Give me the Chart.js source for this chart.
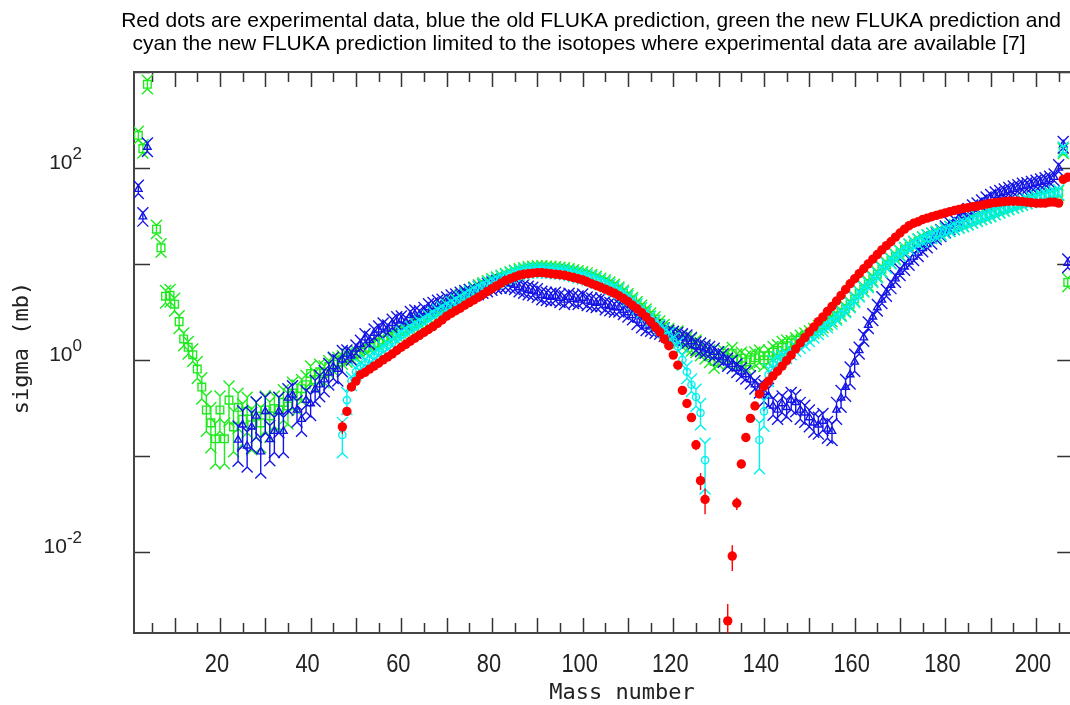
<!DOCTYPE html>
<html>
<head>
<meta charset="utf-8">
<title>sigma x Mass number</title>
<script src="https://cdn.jsdelivr.net/npm/chart.js@4.4.1/dist/chart.umd.min.js"></script>
<style>
  html, body { margin: 0; padding: 0; background: #fff; overflow: hidden; }
  #wrap { width: 1080px; height: 705px; }
</style>
</head>
<body>
<div id="wrap"><canvas id="grafico" width="1080" height="705"></canvas></div>
<script>
// Dados (sigma em mb, erro relativo)

// Pontos vermelhos - dados experimentais
const massaExp = [
  47,48,49,50,51,52,53,54,55,56,
  57,58,59,60,61,62,63,64,65,66,
  67,68,69,70,71,72,73,74,75,76,
  77,78,79,80,81,82,83,84,85,86,
  87,88,89,90,91,92,93,94,95,96,
  97,98,99,100,101,102,103,104,105,106,
  107,108,109,110,111,112,113,114,115,116,
  117,118,119,120,121,122,123,124,125,126,
  127,
  132,133,134,135,136,137,138,139,140,141,
  142,143,144,145,146,147,148,149,150,151,
  152,153,154,155,156,157,158,159,160,161,
  162,163,164,165,166,167,168,169,170,171,
  172,173,174,175,176,177,178,179,180,181,
  182,183,184,185,186,187,188,189,190,191,
  192,193,194,195,196,197,198,199,200,201,
  202,203,204,205,206,207
];
const sigmaExp = [
  0.20,0.29,0.52,0.60,0.70,0.74,0.80,0.86,0.92,1.00,
  1.07,1.15,1.25,1.35,1.45,1.56,1.68,1.80,1.93,2.07,
  2.22,2.40,2.60,2.85,3.05,3.25,3.45,3.7,3.95,4.2,
  4.5,4.8,5.15,5.5,5.9,6.3,6.7,7.0,7.3,7.6,
  7.8,7.9,8.0,8.1,8.1,8.0,7.9,7.8,7.7,7.6,
  7.4,7.2,7.0,6.8,6.5,6.2,5.95,5.7,5.45,5.2,
  4.95,4.65,4.35,4.05,3.7,3.4,3.1,2.8,2.5,2.2,
  1.95,1.65,1.4,1.12,0.88,0.48,0.35,0.25,0.13,0.055,
  0.035,
  0.0019,0.009,0.032,0.082,0.155,0.245,0.33,0.44,0.53,0.60,
  0.68,0.76,0.86,0.98,1.12,1.3,1.5,1.7,1.95,2.2,
  2.5,2.8,3.2,3.6,4.1,4.7,5.4,6.2,7.0,7.9,
  8.9,10.0,11.2,12.5,14.0,15.5,17.0,19.0,21.0,23,
  25,26.5,27.5,29,30,31,32,33,34,35,
  36,37,38,38.5,39.5,40,41,42,43,43.5,
  44,44.5,45,45,45,44.5,44,43.5,43,43,
  43,44,44,43,76,80
];
const erroExp = [
  0.15,0.1,0.06,0.05,0.05,0.05,0.05,0.05,0.05,0.05,
  0.05,0.05,0.05,0.05,0.05,0.05,0.05,0.05,0.05,0.05,
  0.05,0.05,0.05,0.05,0.05,0.05,0.05,0.05,0.05,0.05,
  0.05,0.05,0.05,0.05,0.05,0.05,0.05,0.05,0.05,0.05,
  0.05,0.05,0.05,0.05,0.05,0.05,0.05,0.05,0.05,0.05,
  0.05,0.05,0.05,0.05,0.05,0.05,0.05,0.05,0.05,0.05,
  0.05,0.05,0.05,0.05,0.05,0.05,0.05,0.05,0.05,0.05,
  0.05,0.05,0.05,0.05,0.08,0.1,0.1,0.1,0.12,0.2,
  0.3,
  0.5,0.3,0.15,0.1,0.08,0.06,0.05,0.05,0.05,0.05,
  0.05,0.05,0.05,0.05,0.05,0.05,0.05,0.05,0.05,0.05,
  0.05,0.05,0.05,0.05,0.05,0.05,0.05,0.05,0.05,0.05,
  0.05,0.05,0.05,0.05,0.05,0.05,0.05,0.05,0.05,0.05,
  0.05,0.05,0.05,0.05,0.05,0.05,0.05,0.05,0.05,0.05,
  0.05,0.05,0.05,0.05,0.05,0.05,0.05,0.05,0.05,0.05,
  0.05,0.05,0.05,0.05,0.05,0.05,0.05,0.05,0.05,0.05,
  0.05,0.05,0.05,0.05,0.06,0.06
];

// Azul - predição antiga do FLUKA
const massaAntigo = [
  2,3,4,
  24,25,26,27,28,29,30,31,32,33,
  34,35,36,37,38,39,40,41,42,43,
  44,45,46,47,48,49,50,51,52,53,
  54,55,56,57,58,59,60,61,62,63,
  64,65,66,67,68,69,70,71,72,73,
  74,75,76,77,78,79,80,81,82,83,
  84,85,86,87,88,89,90,91,92,93,
  94,95,96,97,98,99,100,101,102,103,
  104,105,106,107,108,109,110,111,112,113,
  114,115,116,117,118,119,120,121,122,123,
  124,125,126,127,128,129,130,131,132,133,
  134,135,136,137,138,139,140,141,142,143,
  144,145,146,147,148,149,150,151,152,153,
  154,155,156,157,158,159,160,161,162,163,
  164,165,166,167,168,169,170,171,172,173,
  174,175,176,177,178,179,180,181,182,183,
  184,185,186,187,188,189,190,191,192,193,
  194,195,196,197,198,199,200,201,202,203,
  204,205,206,207
];
const sigmaAntigo = [
  60,31,165,
  0.146,0.21,0.127,0.2,0.26,0.11,0.29,0.148,0.18,0.29,
  0.18,0.40,0.43,0.30,0.24,0.38,0.35,0.49,0.55,0.62,
  0.73,0.85,0.80,1.0,1.15,1.1,1.3,1.45,1.7,1.6,
  1.9,2.05,2.2,2.1,2.4,2.55,2.6,2.5,2.9,3.0,
  2.95,3.2,3.5,3.6,3.8,3.9,4.1,4.3,4.4,4.6,
  4.8,4.9,5.1,5.3,5.5,5.7,5.9,6.1,6.2,6.3,
  6.2,6.0,5.7,5.5,5.3,5.2,5.0,4.7,4.6,4.5,
  4.6,4.4,4.2,4.5,4.3,4.2,4.4,4.1,4.0,3.9,
  4.0,3.7,3.6,3.5,3.5,3.3,3.1,2.9,2.6,2.4,
  2.25,2.2,2.1,2.05,1.95,1.85,1.8,1.75,1.7,1.65,
  1.55,1.4,1.35,1.3,1.25,1.2,1.1,1.05,0.95,0.9,
  0.82,0.75,0.70,0.62,0.55,0.5,0.46,0.42,0.33,0.30,
  0.35,0.32,0.38,0.36,0.30,0.28,0.25,0.22,0.21,0.23,
  0.19,0.18,0.30,0.40,0.52,0.70,0.95,1.25,1.7,2.3,
  2.8,3.5,4.2,5.0,6.0,7.0,8.2,9.3,10.5,11.8,
  13.0,14.5,16.0,17.5,19.5,21,23,25,27,29.5,
  32,35,38,40,43,46,49,52,54,56,
  58,60,62,64,65,67,69,71,73,76,
  80,100,175,10.2
];
const erroAntigo = [
  0.1,0.1,0.1,
  0.4,0.4,0.4,0.4,0.4,0.4,0.4,0.4,0.4,0.4,
  0.4,0.25,0.25,0.25,0.25,0.25,0.25,0.25,0.25,0.25,
  0.25,0.25,0.25,0.25,0.1,0.1,0.1,0.1,0.1,0.1,
  0.1,0.1,0.1,0.1,0.1,0.1,0.1,0.1,0.1,0.1,
  0.1,0.1,0.1,0.1,0.1,0.1,0.1,0.1,0.1,0.1,
  0.1,0.1,0.1,0.1,0.1,0.1,0.1,0.1,0.1,0.1,
  0.1,0.1,0.1,0.1,0.1,0.1,0.1,0.1,0.1,0.1,
  0.1,0.1,0.1,0.1,0.1,0.1,0.1,0.1,0.1,0.1,
  0.1,0.1,0.1,0.1,0.1,0.1,0.1,0.1,0.1,0.1,
  0.1,0.1,0.1,0.1,0.1,0.1,0.1,0.1,0.1,0.1,
  0.1,0.1,0.1,0.1,0.1,0.1,0.1,0.1,0.1,0.1,
  0.1,0.1,0.1,0.1,0.1,0.1,0.2,0.2,0.2,0.2,
  0.2,0.2,0.2,0.2,0.2,0.2,0.2,0.2,0.2,0.2,
  0.2,0.2,0.2,0.2,0.2,0.2,0.2,0.08,0.08,0.08,
  0.08,0.08,0.08,0.08,0.08,0.08,0.08,0.08,0.08,0.08,
  0.08,0.08,0.08,0.08,0.08,0.08,0.08,0.08,0.08,0.08,
  0.08,0.08,0.08,0.08,0.08,0.08,0.08,0.08,0.08,0.08,
  0.08,0.08,0.08,0.08,0.08,0.08,0.08,0.08,0.08,0.08,
  0.08,0.08,0.08,0.1
];

// Verde - nova predição do FLUKA
const massaNovo = [
  2,3,4,
  6,7,8,9,10,11,12,13,14,15,
  16,17,18,19,20,21,22,23,24,25,
  26,27,28,29,30,31,32,33,34,35,
  36,37,38,39,40,41,42,43,44,45,
  46,47,48,49,50,51,52,53,54,55,
  56,57,58,59,60,61,62,63,64,65,
  66,67,68,69,70,71,72,73,74,75,
  76,77,78,79,80,81,82,83,84,85,
  86,87,88,89,90,91,92,93,94,95,
  96,97,98,99,100,101,102,103,104,105,
  106,107,108,109,110,111,112,113,114,115,
  116,117,118,119,120,121,122,123,124,125,
  126,127,128,129,130,131,132,133,134,135,
  136,137,138,139,140,141,142,143,144,145,
  146,147,148,149,150,151,152,153,154,155,
  156,157,158,159,160,161,162,163,164,165,
  166,167,168,169,170,171,172,173,174,175,
  176,177,178,179,180,181,182,183,184,185,
  186,187,188,189,190,191,192,193,194,195,
  196,197,198,199,200,201,202,203,204,205,
  206,207
];
const sigmaNovo = [
  219,159,745,
  23,14.7,4.6,4.7,3.8,2.5,1.65,1.35,1.13,0.8,
  0.52,0.3,0.22,0.15,0.3,0.15,0.38,0.2,0.32,0.24,
  0.29,0.21,0.26,0.22,0.3,0.26,0.31,0.3,0.36,0.33,
  0.45,0.42,0.5,0.55,0.72,0.62,0.75,0.72,0.85,0.9,
  0.95,1.0,1.05,1.1,1.15,1.2,1.3,1.35,1.45,1.5,
  1.6,1.7,1.8,1.9,2.0,2.1,2.25,2.4,2.55,2.7,
  2.9,3.1,3.3,3.5,3.75,4.0,4.2,4.5,4.8,5.1,
  5.4,5.7,6.0,6.3,6.6,6.9,7.2,7.5,7.8,8.1,
  8.4,8.6,8.8,8.9,9.0,9.0,8.9,8.9,8.8,8.7,
  8.6,8.4,8.2,8.0,7.8,7.6,7.3,7.0,6.7,6.4,
  6.1,5.8,5.4,5.0,4.6,4.2,3.8,3.5,3.2,2.9,
  2.65,2.4,2.2,2.0,1.85,1.75,1.6,1.5,1.45,1.4,
  1.3,1.2,1.1,0.96,1.05,1.1,1.05,1.17,1.0,1.04,
  0.95,1.0,1.05,1.1,1.0,1.1,1.2,1.25,1.35,1.4,
  1.5,1.6,1.7,1.8,1.9,2.0,2.15,2.3,2.45,2.65,
  2.85,3.1,3.4,3.8,4.3,4.9,5.5,6.2,7.0,7.8,
  8.8,9.8,10.8,11.9,13.0,14.1,15.2,16.2,17.2,18.1,
  19,19.8,20.6,21.4,22.3,23.3,24.3,25.3,26.3,27.3,
  28.5,29.7,30.9,32.1,33.3,34.8,36.3,37.8,39.3,40.8,
  42.3,43.8,45.3,46.8,48.3,49.8,51.3,52.5,53.7,55,
  150,6.4
];
const erroNovo = [
  0.1,0.1,0.1,
  0.1,0.1,0.15,0.15,0.15,0.15,0.15,0.15,0.15,0.2,
  0.25,0.4,0.45,0.45,0.4,0.45,0.4,0.45,0.4,0.45,
  0.4,0.45,0.4,0.45,0.4,0.4,0.35,0.35,0.35,0.35,
  0.3,0.3,0.25,0.25,0.2,0.2,0.2,0.2,0.15,0.15,
  0.12,0.1,0.1,0.08,0.08,0.06,0.06,0.06,0.06,0.06,
  0.06,0.06,0.06,0.06,0.06,0.06,0.06,0.06,0.06,0.06,
  0.06,0.06,0.06,0.06,0.06,0.06,0.06,0.06,0.06,0.06,
  0.06,0.06,0.06,0.06,0.06,0.06,0.06,0.06,0.06,0.06,
  0.06,0.06,0.06,0.06,0.06,0.06,0.06,0.06,0.06,0.06,
  0.06,0.06,0.06,0.06,0.06,0.06,0.06,0.06,0.06,0.06,
  0.06,0.06,0.06,0.06,0.06,0.06,0.06,0.06,0.06,0.06,
  0.06,0.06,0.06,0.06,0.06,0.15,0.15,0.15,0.15,0.15,
  0.15,0.15,0.15,0.15,0.15,0.15,0.15,0.15,0.15,0.15,
  0.15,0.15,0.15,0.15,0.15,0.15,0.15,0.15,0.15,0.15,
  0.06,0.06,0.06,0.06,0.06,0.06,0.06,0.06,0.06,0.06,
  0.06,0.06,0.06,0.06,0.06,0.06,0.06,0.06,0.06,0.06,
  0.06,0.06,0.06,0.06,0.06,0.06,0.06,0.06,0.06,0.06,
  0.06,0.06,0.06,0.06,0.06,0.06,0.06,0.06,0.06,0.06,
  0.06,0.06,0.06,0.06,0.06,0.06,0.06,0.06,0.06,0.06,
  0.06,0.06,0.06,0.06,0.06,0.06,0.06,0.06,0.06,0.06,
  0.06,0.1
];

// Ciano - nova predição limitada aos isótopos com dados experimentais
const massaLimitado = [
  47,48,49,50,51,52,53,54,55,56,
  57,58,59,60,61,62,63,64,65,66,
  67,68,69,70,71,72,73,74,75,76,
  77,78,79,80,81,82,83,84,85,86,
  87,88,89,90,91,92,93,94,95,96,
  97,98,99,100,101,102,103,104,105,106,
  107,108,109,110,111,112,113,114,115,116,
  117,118,119,120,121,122,123,124,125,126,
  127,
  139,140,141,142,143,144,145,146,147,148,
  149,150,151,152,153,154,155,156,157,158,
  159,160,161,162,163,164,165,166,167,168,
  169,170,171,172,173,174,175,176,177,178,
  179,180,181,182,183,184,185,186,187,188,
  189,190,191,192,193,194,195,196,197,198,
  199,200,201,202,203,204,205,206
];
const sigmaLimitado = [
  0.165,0.38,0.6,0.75,0.85,0.95,1.0,1.1,1.2,1.3,
  1.4,1.5,1.7,1.85,1.95,2.1,2.25,2.4,2.55,2.75,
  2.95,3.15,3.35,3.55,3.8,4.0,4.3,4.6,4.9,5.2,
  5.5,5.8,6.1,6.4,6.7,7.0,7.3,7.6,7.9,8.1,
  8.3,8.5,8.6,8.6,8.6,8.5,8.5,8.4,8.3,8.2,
  8.0,7.8,7.6,7.4,7.2,7.0,6.7,6.4,6.1,5.8,
  5.5,5.2,4.8,4.4,4.0,3.6,3.3,3.0,2.7,2.45,
  2.2,2.0,1.8,1.6,1.38,1.0,0.75,0.55,0.41,0.28,
  0.09,
  0.146,0.29,0.7,0.9,1.0,1.05,1.1,1.2,1.3,1.4,
  1.5,1.65,1.8,1.95,2.1,2.3,2.5,2.75,3.0,3.3,
  3.7,4.2,4.8,5.4,6.0,6.8,7.6,8.6,9.6,10.6,
  11.7,12.8,13.9,15.0,16.0,17.0,17.9,18.7,19.5,20.3,
  21.1,22,23,24,25,26,27,28.2,29.4,30.6,
  31.8,33,34.5,36,37.5,39,40.5,42,43.5,45,
  46.5,48,49.5,51,52.5,54,56,156
];
const erroLimitado = [
  0.35,0.2,0.1,0.08,0.06,0.06,0.06,0.06,0.06,0.06,
  0.06,0.06,0.06,0.06,0.06,0.06,0.06,0.06,0.06,0.06,
  0.06,0.06,0.06,0.06,0.06,0.06,0.06,0.06,0.06,0.06,
  0.06,0.06,0.06,0.06,0.06,0.06,0.06,0.06,0.06,0.06,
  0.06,0.06,0.06,0.06,0.06,0.06,0.06,0.06,0.06,0.06,
  0.06,0.06,0.06,0.06,0.06,0.06,0.06,0.06,0.06,0.06,
  0.06,0.06,0.06,0.06,0.06,0.06,0.06,0.06,0.06,0.06,
  0.06,0.06,0.06,0.06,0.1,0.12,0.15,0.15,0.2,0.25,
  0.5,
  0.5,0.3,0.15,0.1,0.08,0.06,0.06,0.06,0.06,0.06,
  0.06,0.06,0.06,0.06,0.06,0.06,0.06,0.06,0.06,0.06,
  0.06,0.06,0.06,0.06,0.06,0.06,0.06,0.06,0.06,0.06,
  0.06,0.06,0.06,0.06,0.06,0.06,0.06,0.06,0.06,0.06,
  0.06,0.06,0.06,0.06,0.06,0.06,0.06,0.06,0.06,0.06,
  0.06,0.06,0.06,0.06,0.06,0.06,0.06,0.06,0.06,0.06,
  0.06,0.06,0.06,0.06,0.06,0.06,0.06,0.06
];

// Eixos
const ticksMassa = [20, 40, 60, 80, 100, 120, 140, 160, 180, 200];
const expoentesSigma = [-2, 0, 2];

const titulo = [
  'Red dots are experimental data, blue the old FLUKA prediction, green the new FLUKA prediction and',
  'cyan the new FLUKA prediction limited to the isotopes where experimental data are available [7]'
];

const pontos = (massa, sigma) => massa.map((m, i) => ({ x: m, y: sigma[i] }));

// Barras de erro com "garfo" nas pontas, desenhadas antes dos marcadores de cada série
const barrasErro = {
    id: 'barrasErro',
    beforeDatasetDraw(chart, args) {
        const ds = chart.data.datasets[args.index];
        if (!ds.erros) return;
        const y = chart.scales.y;
        const area = chart.chartArea;
        const c = chart.ctx;
        c.save();
        c.beginPath();
        c.rect(area.left, area.top, area.right - area.left, area.bottom - area.top);
        c.clip();
        c.strokeStyle = ds.corBarra;
        c.lineWidth = 1.4;
        args.meta.data.forEach((pt, i) => {
            const v = ds.data[i].y;
            const e = ds.erros[i];
            const yAlto = y.getPixelForValue(v * (1 + e));
            const yBaixo = y.getPixelForValue(Math.max(v * (1 - e), 1e-6));
            c.beginPath();
            c.moveTo(pt.x, yAlto);
            c.lineTo(pt.x, yBaixo);
            if (ds.garfo) {
                const g = ds.garfo;
                c.moveTo(pt.x - g, yAlto - g); c.lineTo(pt.x, yAlto); c.lineTo(pt.x + g, yAlto - g);
                c.moveTo(pt.x - g, yBaixo + g); c.lineTo(pt.x, yBaixo); c.lineTo(pt.x + g, yBaixo + g);
            }
            c.stroke();
        });
        c.restore();
    }
};

// Moldura com ticks para dentro, nos quatro lados, e os textos
const moldura = {
    id: 'moldura',
    beforeDatasetsDraw(chart) {
        const { ctx: c, chartArea: a, scales: { x, y } } = chart;
        c.save();
        c.strokeStyle = '#333';
        c.lineWidth = 1.5;
        for (let m = 5; m <= x.max; m += 5) {
            const px = Math.round(x.getPixelForValue(m)) + 0.5;
            const len = m % 10 === 0 ? 15 : 10;
            c.beginPath();
            c.moveTo(px, a.bottom); c.lineTo(px, a.bottom - len);
            c.moveTo(px, a.top); c.lineTo(px, a.top + len);
            c.stroke();
        }
        for (let k = -2; k <= 3; k++) {
            const py = Math.round(y.getPixelForValue(Math.pow(10, k))) + 0.5;
            c.beginPath();
            c.moveTo(a.left, py); c.lineTo(a.left + 16, py);
            c.moveTo(a.right, py); c.lineTo(a.right - 16, py);
            c.stroke();
        }
        c.strokeStyle = '#444';
        c.lineWidth = 2;
        c.strokeRect(a.left, a.top, a.right - a.left, a.bottom - a.top);
        c.restore();
    },
    afterDraw(chart) {
        const { ctx: c, scales: { x, y } } = chart;
        c.save();
        c.fillStyle = '#000';
        // título em duas linhas
        c.font = '21px "Liberation Sans", Arial, sans-serif';
        c.textAlign = 'center';
        c.textBaseline = 'alphabetic';
        c.fillText(titulo[0], 591, 27);
        c.fillText(titulo[1], 579, 50);

        // rótulos do eixo x (fonte estreita)
        c.fillStyle = '#222';
        c.font = '26px "Liberation Sans", Arial, sans-serif';
        ticksMassa.forEach(v => {
            const px = x.getPixelForValue(v) - 3;
            c.save();
            c.translate(px, 672);
            c.scale(0.84, 1);
            c.fillText(String(v), 0, 0);
            c.restore();
        });

        // rótulos 10^n do eixo y
        c.textAlign = 'left';
        expoentesSigma.forEach(k => {
            const py = y.getPixelForValue(Math.pow(10, k));
            const exp = String(k);
            c.font = '17px "Liberation Sans", Arial, sans-serif';
            const wExp = c.measureText(exp).width;
            c.font = '21px "Liberation Sans", Arial, sans-serif';
            const wBase = c.measureText('10').width;
            const xFim = 82;
            c.fillText('10', xFim - wExp - wBase, py + 1);
            c.font = '17px "Liberation Sans", Arial, sans-serif';
            c.fillText(exp, xFim - wExp, py - 9);
        });

        // títulos dos eixos
        c.font = '22px "DejaVu Sans Mono", monospace';
        c.textAlign = 'center';
        c.textBaseline = 'middle';
        c.fillText('Mass number', 622, 693);
        c.translate(22, 348);
        c.rotate(-Math.PI / 2);
        c.fillText('sigma (mb)', 0, 0);
        c.restore();
    }
};

const ctx = document.getElementById('grafico');

new Chart(ctx, {
    type: 'scatter',
    data: {
        datasets: [
            {
                label: 'Experimental',
                data: pontos(massaExp, sigmaExp),
                erros: erroExp,
                corBarra: 'rgb(255, 0, 0)',
                garfo: 0,
                pointStyle: 'circle',
                pointRadius: 4.7,
                pointBackgroundColor: 'rgb(255, 0, 0)',
                pointBorderWidth: 0
            },
            {
                label: 'FLUKA nova (limitada)',
                data: pontos(massaLimitado, sigmaLimitado),
                erros: erroLimitado,
                corBarra: 'rgb(0, 240, 240)',
                garfo: 5.5,
                pointStyle: 'circle',
                pointRadius: 3.6,
                pointBackgroundColor: 'rgba(0, 0, 0, 0)',
                pointBorderColor: 'rgb(0, 240, 240)',
                pointBorderWidth: 1.4
            },
            {
                label: 'FLUKA antiga',
                data: pontos(massaAntigo, sigmaAntigo),
                erros: erroAntigo,
                corBarra: 'rgb(20, 20, 230)',
                garfo: 5.5,
                pointStyle: 'triangle',
                pointRadius: 4.3,
                pointBackgroundColor: 'rgba(0, 0, 0, 0)',
                pointBorderColor: 'rgb(20, 20, 230)',
                pointBorderWidth: 1.4
            },
            {
                label: 'FLUKA nova',
                data: pontos(massaNovo, sigmaNovo),
                erros: erroNovo,
                corBarra: 'rgb(30, 235, 30)',
                garfo: 5.5,
                pointStyle: 'rect',
                pointRadius: 5.4,
                pointBackgroundColor: 'rgba(0, 0, 0, 0)',
                pointBorderColor: 'rgb(30, 235, 30)',
                pointBorderWidth: 1.4
            }
        ]
    },
    options: {
        responsive: false,
        animation: false,
        layout: {
            padding: { top: 72, left: 0, right: 6, bottom: 0 }
        },
        scales: {
            x: {
                type: 'linear',
                min: 1.045,
                max: 208.2,
                grid: { display: false },
                border: { display: false },
                afterBuildTicks: axis => { axis.ticks = ticksMassa.map(v => ({ value: v })); },
                afterFit: axis => { axis.height = 72; },
                ticks: { display: false }
            },
            y: {
                type: 'logarithmic',
                min: 0.00142,
                max: 1000,
                grid: { display: false },
                border: { display: false },
                afterFit: axis => { axis.width = 134; },
                ticks: { display: false }
            }
        },
        plugins: {
            legend: { display: false },
            tooltip: { enabled: false }
        }
    },
    plugins: [barrasErro, moldura]
});
</script>
</body>
</html>
